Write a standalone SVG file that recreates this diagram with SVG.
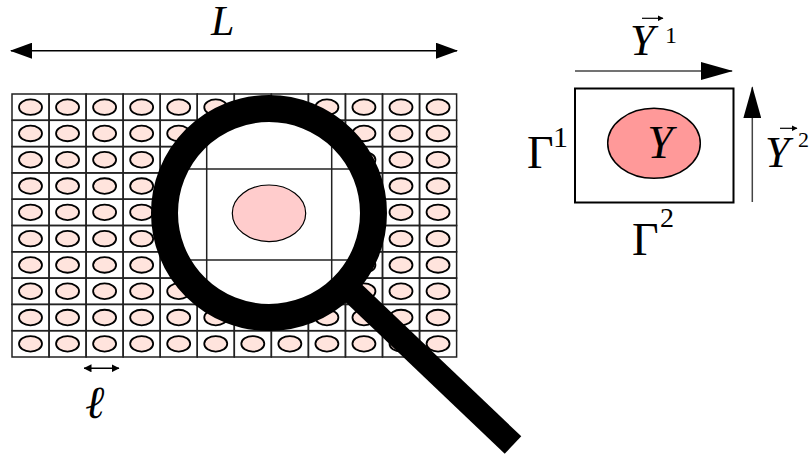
<svg xmlns="http://www.w3.org/2000/svg" xmlns:xlink="http://www.w3.org/1999/xlink" width="810" height="458" viewBox="0 0 810 458">
<style>
.ln{stroke:#000;stroke-width:1.5;fill:none}
.gl{stroke:#222;stroke-width:1.5;fill:none}
.tx{font-family:"Liberation Serif","Times New Roman",serif;fill:#000}
.it{font-style:italic}
</style>
<defs>
<marker id="ahL" viewBox="0 0 22 16" refX="21" refY="8" markerWidth="22" markerHeight="16" markerUnits="userSpaceOnUse" orient="auto-start-reverse"><path d="M0,0 L22,8 L0,16 z" fill="#000"/></marker>
<marker id="ahB" viewBox="0 0 32 18" refX="31" refY="9" markerWidth="32" markerHeight="18" markerUnits="userSpaceOnUse" orient="auto"><path d="M0,0 L32,9 L0,18 z" fill="#000"/></marker>
<marker id="ahS" viewBox="0 0 8 8" refX="7.5" refY="4" markerWidth="8" markerHeight="8" markerUnits="userSpaceOnUse" orient="auto-start-reverse"><path d="M0,0 L8,4 L0,8 z" fill="#000"/></marker>
<marker id="ahV" viewBox="0 0 6 6" refX="5.5" refY="3" markerWidth="6" markerHeight="6" markerUnits="userSpaceOnUse" orient="auto"><path d="M0,0 L6,3 L0,6 z" fill="#000"/></marker>
<g id="cell"><rect width="37.05" height="26.3" fill="#fff" class="gl"/><ellipse cx="18.5" cy="13.15" rx="11.5" ry="7.8" fill="#FFE4DD" stroke="#000" stroke-width="1.8"/></g>
<g id="row">
<use xlink:href="#cell" x="0"/><use xlink:href="#cell" x="37.05"/><use xlink:href="#cell" x="74.1"/><use xlink:href="#cell" x="111.15"/><use xlink:href="#cell" x="148.2"/><use xlink:href="#cell" x="185.25"/><use xlink:href="#cell" x="222.3"/><use xlink:href="#cell" x="259.35"/><use xlink:href="#cell" x="296.4"/><use xlink:href="#cell" x="333.45"/><use xlink:href="#cell" x="370.5"/><use xlink:href="#cell" x="407.55"/>
</g>
<clipPath id="lensClip"><circle cx="269" cy="213" r="92"/></clipPath>
</defs>

<g id="grid" transform="translate(12,94)">
<use xlink:href="#row" y="0"/><use xlink:href="#row" y="26.3"/><use xlink:href="#row" y="52.6"/><use xlink:href="#row" y="78.9"/><use xlink:href="#row" y="105.2"/><use xlink:href="#row" y="131.5"/><use xlink:href="#row" y="157.8"/><use xlink:href="#row" y="184.1"/><use xlink:href="#row" y="210.4"/><use xlink:href="#row" y="236.7"/>
</g>

<g id="lens">
<circle cx="269" cy="213" r="92" fill="#fff"/>
<g clip-path="url(#lensClip)">
<line class="gl" x1="206.7" y1="100" x2="206.7" y2="330"/>
<line class="gl" x1="331.7" y1="100" x2="331.7" y2="330"/>
<line class="gl" x1="150" y1="169" x2="390" y2="169"/>
<line class="gl" x1="150" y1="260" x2="390" y2="260"/>
<ellipse cx="269" cy="213.3" rx="36.7" ry="28.3" fill="#FFCCCC" stroke="#000" stroke-width="1.2"/>
</g>
<circle cx="269" cy="213" r="104.5" fill="none" stroke="#000" stroke-width="27"/>
<line x1="345" y1="285" x2="513" y2="445" stroke="#000" stroke-width="24"/>
</g>

<g id="cellY">
<rect x="575" y="88.5" width="158.5" height="114" fill="#fff" stroke="#000" stroke-width="2"/>
<ellipse cx="654" cy="143.3" rx="46.3" ry="35" fill="#FF9999" stroke="#000" stroke-width="1.5"/>
<text class="tx it" x="660" y="158" font-size="46" text-anchor="middle">Y</text>
</g>

<g id="connectors">
<line class="ln" x1="11" y1="50.7" x2="457" y2="50.7" marker-start="url(#ahL)" marker-end="url(#ahL)"/>
<line class="ln" x1="84" y1="368.3" x2="119" y2="368.3" stroke-width="1.2" marker-start="url(#ahS)" marker-end="url(#ahS)"/>
<line x1="575" y1="71" x2="732" y2="71" stroke="#444" stroke-width="1.5" marker-end="url(#ahB)"/>
<line x1="752.3" y1="202" x2="752.3" y2="87.3" stroke="#444" stroke-width="1.5" marker-end="url(#ahB)"/>
<line x1="642" y1="18.3" x2="663" y2="18.3" stroke="#000" stroke-width="1.2" marker-end="url(#ahV)"/>
<line x1="780" y1="128.3" x2="797" y2="128.3" stroke="#000" stroke-width="1.2" marker-end="url(#ahV)"/>
</g>

<g id="labels">
<text class="tx it" x="211" y="35" font-size="42">L</text>
<text x="85" y="418" font-size="46" font-style="italic" font-family="'DejaVu Serif','Liberation Serif',serif">ℓ</text>
<text class="tx" x="527" y="168" font-size="46">Γ<tspan x="553" y="146.7" font-size="30">1</tspan></text>
<text class="tx" x="632" y="255" font-size="46">Γ<tspan x="660" y="226.7" font-size="28">2</tspan></text>
<text class="tx it" x="630" y="55" font-size="44">Y<tspan class="tx" style="font-style:normal" x="665" y="43" font-size="24">1</tspan></text>
<text class="tx it" x="765" y="166.7" font-size="44">Y<tspan class="tx" style="font-style:normal" x="798" y="147" font-size="22">2</tspan></text>
</g>
</svg>
